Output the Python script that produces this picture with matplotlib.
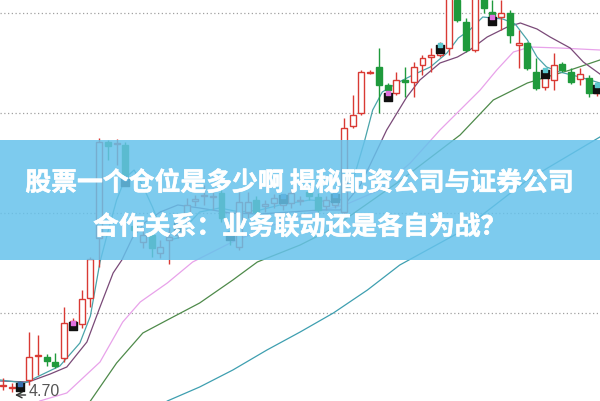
import numpy as np
import matplotlib
matplotlib.use('Agg')
import matplotlib.pyplot as plt
import matplotlib.patheffects as pe
from matplotlib.patches import Rectangle

# K线数据 (开, 收, 高, 低)
opens = [4.77, 4.75, 4.79, 4.83, 5.07, 5.06, 5.01, 5.05, 5.36, 5.39,
         5.65, 6.25, 7.21, 7.19, 7.18, 6.37, 6.21, 6.28, 6.10, 6.23,
         6.28, 6.48, 6.62, 6.67, 6.66, 6.70, 6.31, 6.16, 6.51, 6.63,
         6.57, 6.60, 6.58, 6.60, 6.62, 6.71, 6.66, 6.57, 6.58, 6.51,
         7.37, 7.50, 7.90, 7.96, 7.78, 7.70, 7.83, 7.81, 7.98, 8.06,
         8.08, 8.15, 8.63, 8.41, 8.13, 8.68, 8.51, 8.46, 8.50, 8.18,
         8.20, 7.91, 7.76, 7.83, 7.99, 7.91, 7.84, 7.85, 7.70]
closes = [4.78, 4.76, 4.77, 5.06, 5.08, 5.02, 4.97, 5.40, 5.42, 5.64,
          6.04, 7.21, 7.17, 7.20, 6.86, 6.33, 6.28, 6.15, 6.16, 6.26,
          6.35, 6.58, 6.64, 6.68, 6.67, 6.45, 6.25, 6.61, 6.61, 6.51,
          6.59, 6.65, 6.65, 6.70, 6.63, 6.67, 6.53, 6.63, 6.68, 7.35,
          7.48, 7.91, 7.91, 7.78, 7.73, 7.83, 7.81, 7.96, 8.05, 8.08,
          8.13, 8.83, 8.43, 8.13, 8.73, 8.55, 8.45, 8.50, 8.28, 8.20,
          7.95, 7.75, 7.87, 7.98, 7.93, 7.81, 7.89, 7.70, 7.75]
highs = [4.85, 4.80, 4.82, 5.31, 5.28, 5.09, 5.10, 5.56, 5.45, 5.73,
         6.06, 7.25, 7.23, 7.24, 7.21, 6.41, 6.36, 6.31, 6.23, 6.36,
         6.41, 6.65, 6.68, 6.78, 6.75, 6.73, 6.35, 6.71, 6.71, 6.67,
         6.63, 6.69, 6.68, 6.75, 6.67, 6.73, 6.70, 6.67, 6.71, 7.45,
         7.68, 7.93, 7.93, 8.15, 7.80, 7.91, 7.96, 8.01, 8.08, 8.15,
         8.21, 8.93, 8.73, 8.45, 8.83, 8.73, 8.63, 8.63, 8.53, 8.33,
         8.21, 8.05, 7.93, 8.10, 8.01, 7.95, 7.95, 7.88, 7.78]
lows = [4.73, 4.71, 4.70, 4.78, 4.88, 4.97, 4.95, 5.01, 5.34, 5.35,
        5.56, 5.96, 7.03, 6.98, 6.78, 6.28, 6.15, 6.06, 6.05, 5.99,
        6.25, 6.41, 6.57, 6.58, 6.53, 6.41, 6.18, 6.13, 6.45, 6.45,
        6.51, 6.55, 6.53, 6.55, 6.58, 6.63, 6.48, 6.53, 6.55, 6.48,
        7.35, 7.48, 7.89, 7.50, 7.68, 7.68, 7.66, 7.66, 7.88, 7.91,
        8.06, 8.08, 8.41, 8.11, 8.11, 8.50, 8.38, 8.33, 8.20, 7.95,
        7.93, 7.73, 7.73, 7.73, 7.91, 7.79, 7.78, 7.66, 7.67]

# 均线 (读图所得)
ma5_x = [-0.3, 2.5, 4.6, 6.5, 7.3, 8.8, 10.0, 11.1, 12.0, 13.0, 14.0, 15.0,
         16.0, 17.1, 18.0, 19.0, 20.0, 21.1, 22.5, 24.8, 27.1, 29.4, 31.7,
         35.1, 38.0, 39.1, 40.3, 41.4, 42.3, 43.4, 45.1, 46.9, 48.9, 50.8,
         52.1, 53.4, 54.9, 57.2, 58.6, 60.0, 61.1, 62.2, 63.7, 66.0, 68.3]
ma5_y = [4.83, 4.80, 4.89, 4.97, 5.05, 5.20, 5.47, 6.01, 6.31, 6.63, 6.85, 6.93,
         6.77, 6.56, 6.36, 6.23, 6.25, 6.38, 6.51, 6.55, 6.51, 6.53, 6.58,
         6.63, 6.61, 6.65, 6.90, 7.23, 7.53, 7.71, 7.80, 7.88, 7.96, 8.10,
         8.25, 8.33, 8.46, 8.44, 8.39, 8.23, 8.06, 7.96, 7.91, 7.86, 7.80]
ma10_x = [-0.3, 2.9, 5.4, 7.3, 9.6, 11.1, 12.6, 13.6, 14.8, 16.3, 18.0, 20.0,
          22.5, 26.0, 29.4, 32.8, 36.3, 38.6, 40.9, 43.9, 46.2, 47.7, 50.0,
          52.0, 53.4, 55.4, 57.7, 59.2, 61.1, 62.6, 64.9, 66.4, 68.3]
ma10_y = [4.82, 4.81, 4.89, 4.96, 5.21, 5.56, 5.90, 6.03, 6.25, 6.41, 6.51, 6.58,
          6.55, 6.50, 6.49, 6.51, 6.53, 6.53, 6.78, 7.33, 7.66, 7.83, 8.00,
          8.06, 8.13, 8.26, 8.36, 8.40, 8.34, 8.26, 8.15, 8.01, 7.89]
ma20_x = [4.2, 7.3, 11.1, 13.7, 15.7, 18.8, 21.7, 26.0, 30.6, 35.1, 39.1,
          43.1, 46.6, 50.0, 52.3, 54.6, 56.5, 58.4, 60.3, 63.7, 68.3]
ma20_y = [4.62, 4.70, 5.01, 5.41, 5.61, 5.80, 6.01, 6.20, 6.37, 6.50, 6.58,
          6.73, 7.00, 7.33, 7.53, 7.73, 7.93, 8.11, 8.16, 8.15, 8.13]
ma60_x = [10.0, 13.0, 16.0, 18.8, 22.5, 26.3, 29.1, 34.0, 37.4, 45.4, 52.3,
          56.1, 60.0, 62.2, 64.9, 68.3]
ma60_y = [4.62, 5.00, 5.30, 5.43, 5.60, 5.83, 6.01, 6.18, 6.33, 6.82, 7.28,
          7.63, 7.80, 7.86, 7.93, 8.03]
ma120_x = [18.8, 22.5, 26.3, 30.2, 34.0, 37.8, 41.7, 45.4, 52.3, 60.0, 68.3]
ma120_y = [4.62, 4.76, 4.93, 5.13, 5.31, 5.50, 5.73, 5.98, 6.31, 6.83, 7.26]

# 信号标记
sig_idx = [2, 8, 14, 20, 26, 32, 38, 44, 50, 56, 62, 68]
sig_y = [4.77, 5.38, 6.83, 6.38, 6.28, 6.65, 6.66, 7.68, 8.16, 8.44, 7.91, 7.76]
sig_col = ['#3a6fb0', '#e070e0', '#3a6fb0', '#3a6fb0', '#3a6fb0', '#3a6fb0',
           '#3a6fb0', '#e070e0', '#5cc8d0', '#e070e0', '#5cc8d0', '#5cc8d0']

grid_levels = [5.5, 6.5, 7.5, 8.5]
low_label = '4.70'
title1 = '股票一个仓位是多少啊 揭秘配资公司与证券公司'
title2 = '合作关系：业务联动还是各自为战？'

fig = plt.figure(figsize=(6, 4.01), dpi=100)
ax = fig.add_axes([0, 0, 1, 1])
ax.set_xlim(-0.343, 68.31)
ax.set_ylim(4.62, 8.63)
ax.axis('off')

for g in grid_levels:
    ax.axhline(g, color='#a0a0a0', lw=0.9, linestyle=(0, (1, 2)), zorder=1)

red = '#d93a34'
green = '#1f9a3c'
w = 0.68
for i in range(len(opens)):
    o, c, h, l = opens[i], closes[i], highs[i], lows[i]
    up = c >= o
    col = red if up else green
    ax.vlines(i, l, h, color=col, lw=1, zorder=3)
    lo, hi = min(o, c), max(o, c)
    body = max(hi - lo, 0.015)
    if up:
        ax.add_patch(Rectangle((i - w / 2, lo), w, body, facecolor='white',
                               edgecolor=col, lw=1, zorder=4))
    else:
        ax.add_patch(Rectangle((i - w / 2, lo), w, body, facecolor=col,
                               edgecolor=col, lw=1, zorder=4))

ax.plot(ma120_x, ma120_y, color='#3e9fb0', lw=0.9, zorder=2)
ax.plot(ma60_x, ma60_y, color='#4e8a4a', lw=0.9, zorder=2)
ax.plot(ma20_x, ma20_y, color='#e8a2ea', lw=0.9, zorder=2)
ax.plot(ma10_x, ma10_y, color='#7a4a78', lw=0.9, zorder=2)
ax.plot(ma5_x, ma5_y, color='#4aa4aa', lw=0.9, zorder=2)

for i, y, c in zip(sig_idx, sig_y, sig_col):
    ax.scatter(i, y - 0.015, marker='s', s=30, color='#111111', zorder=5)
    ax.scatter(i, y + 0.02, marker='s', s=10, color=c, zorder=6)

ax.annotate('', xy=(1.05, 4.68), xytext=(2.9, 4.68),
            arrowprops=dict(arrowstyle='->', color='#333333', lw=1), zorder=6)
ax.text(2.97, 4.72, low_label, fontsize=11.5, color='#555555',
        family='Liberation Sans', ha='left', va='center', zorder=6)

ax.add_patch(Rectangle((0, 1 - 260 / 401), 1, 120 / 401, transform=ax.transAxes,
                       facecolor=(0.40, 0.76, 0.92), alpha=0.85, lw=0, zorder=8))
stroke = [pe.withStroke(linewidth=0.4, foreground='white')]
ax.text(0.5, 1 - 183 / 401, title1, transform=ax.transAxes, ha='center',
        va='center', fontsize=18.6, color='white', fontweight='bold',
        family=['Noto Sans CJK SC', 'DejaVu Sans'], zorder=9, path_effects=stroke)
ax.text(0.5, 1 - 227 / 401, title2, transform=ax.transAxes, ha='center',
        va='center', fontsize=18.6, color='white', fontweight='bold',
        family=['Noto Sans CJK SC', 'DejaVu Sans'], zorder=9, path_effects=stroke)

fig.savefig('out.png', dpi=100)
